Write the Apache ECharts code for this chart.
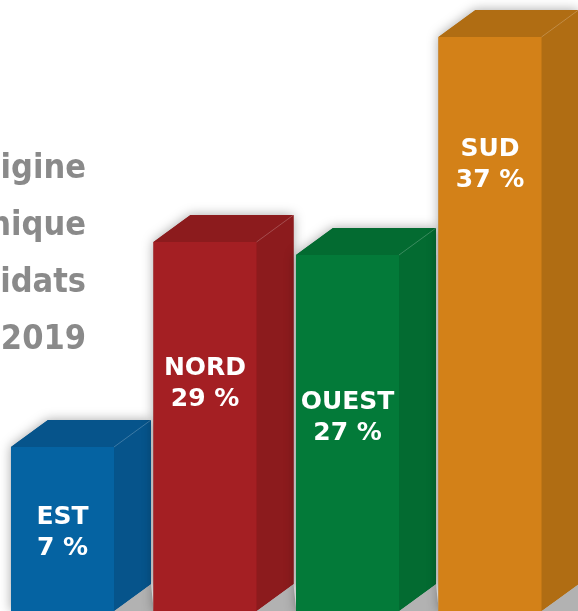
<!DOCTYPE html>
<html>
<head>
    <meta charset="utf-8">
    <script src="https://cdn.jsdelivr.net/npm/echarts@6/dist/echarts.min.js"></script>
    <style>
        html, body { margin: 0; padding: 0; background: #fff; }
    </style>
</head>
<body>
    <div id="main" style="width: 578px;height:611px;"></div>
    <script type="text/javascript">

    // regions, labels and bar heights as drawn in the picture (not to scale with the %)
    var regions = ['EST', 'NORD', 'OUEST', 'SUD'];
    var pourcentages = [7, 29, 27, 37];
    var hauteurs = [16.4, 36.9, 35.6, 57.4];
    var titre = ['igine', 'nique', 'idats', '2019'];

    var faces = ['#0563a2', '#a41f23', '#037a39', '#d38118'];
    var cotes = ['#06548b', '#8c1b1d', '#036b31', '#b06d13'];
    var decalageLabel = [86, 142, 163, 128];
    var dx = 37, dy = -27;

    var myChart = echarts.init(document.getElementById('main'));

    function renderBar(params, api) {
        var i = api.value(0);
        var top = api.coord([i, api.value(1)]);
        var base = api.coord([i, 0]);
        var w = api.size([1, 0])[0] * 0.723;
        var x0 = top[0] - w / 2, x1 = top[0] + w / 2;
        var yT = top[1], yB = base[1];
        return {
            type: 'group',
            children: [
                {
                    type: 'polygon',
                    shape: { points: [[x0, yB], [x0, yT], [x0 + dx, yT + dy], [x1 + dx, yT + dy], [x1 + dx, yB + dy], [x1, yB]] },
                    style: { fill: cotes[i], shadowBlur: 12, shadowColor: 'rgba(0,0,0,0.35)' }
                },
                {
                    type: 'polygon',
                    shape: { points: [[x1, yB], [x1 + dx, yB + dy], [x1 + dx + 3, yB + 2], [x1, yB + 2]] },
                    style: { fill: '#b2b2b2' }
                },
                {
                    type: 'polygon',
                    shape: { points: [[x1, yT], [x1 + dx, yT + dy], [x1 + dx, yB + dy], [x1, yB]] },
                    style: { fill: cotes[i] }
                },
                {
                    type: 'polygon',
                    shape: { points: [[x0, yT], [x0 + dx, yT + dy], [x1 + dx, yT + dy], [x1, yT]] },
                    style: { fill: cotes[i] }
                },
                {
                    type: 'rect',
                    shape: { x: x0, y: yT, width: w, height: yB - yT },
                    style: { fill: faces[i] }
                },
                {
                    type: 'line',
                    shape: { x1: x1, y1: yT, x2: x1 + dx, y2: yT + dy },
                    style: { stroke: 'rgba(255,255,255,0.22)', lineWidth: 1 }
                },
                {
                    type: 'text',
                    x: top[0],
                    y: yT + decalageLabel[i],
                    style: {
                        text: regions[i] + '\n' + pourcentages[i] + ' %',
                        fill: '#ffffff',
                        fontFamily: 'DejaVu Sans',
                        fontWeight: 'bold',
                        fontSize: 25,
                        align: 'center',
                        verticalAlign: 'middle',
                        lineHeight: 31
                    }
                }
            ]
        };
    }

    myChart.setOption({
        animation: false,
        backgroundColor: '#ffffff',
        grid: { left: 0, right: 0, top: 11, bottom: 0 },
        xAxis: {
            type: 'value',
            min: -0.4386,
            max: 3.6175,
            show: false
        },
        yAxis: {
            type: 'value',
            min: 0,
            max: 60,
            show: false
        },
        graphic: titre.map(function (t, k) {
            return {
                type: 'text',
                x: 86,
                y: 169 + k * 57,
                style: {
                    text: t,
                    fill: '#8a8a8a',
                    fontFamily: '"DejaVu Sans Condensed", "DejaVu Sans"',
                    fontWeight: 'bold',
                    fontSize: 34,
                    align: 'right',
                    verticalAlign: 'middle'
                }
            };
        }),
        series: [{
            type: 'custom',
            renderItem: renderBar,
            clip: false,
            data: hauteurs.map(function (h, i) { return [i, h]; })
        }]
    });

</script>
</body>
</html>
